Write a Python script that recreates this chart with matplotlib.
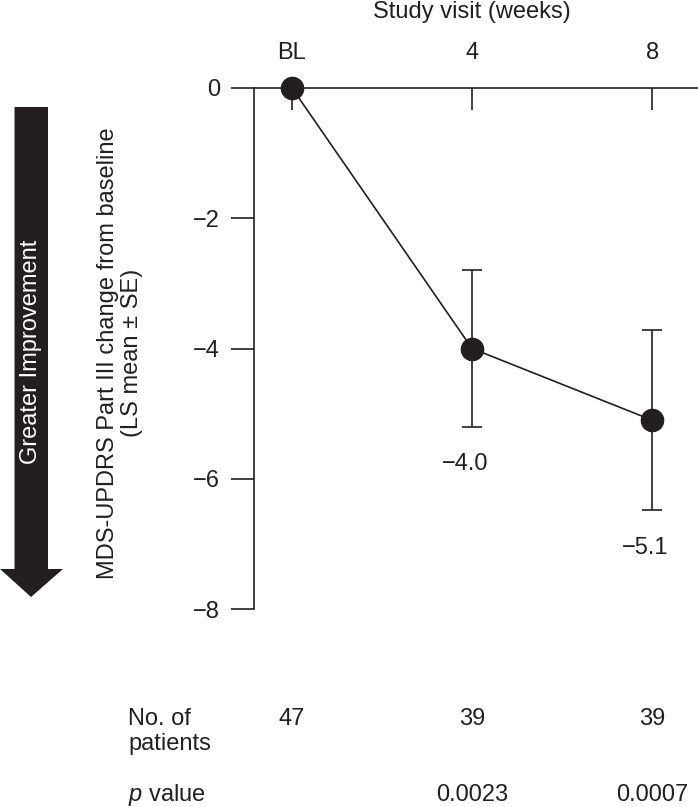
import matplotlib
matplotlib.use("Agg")
import matplotlib.pyplot as plt
from matplotlib.patches import Polygon
from matplotlib import transforms

# data
weeks = [0, 4, 8]
week_labels = ["BL", "4", "8"]
ls_mean = [0.0, -4.0, -5.1]
se = [0.0, 1.2, 1.38]
value_labels = ["", "\u22124.0", "\u22125.1"]
n_patients = ["47", "39", "39"]
p_values = ["", "0.0023", "0.0007"]
y_ticks = [0, -2, -4, -6, -8]

INK = "#231f20"
W, H = 698, 807

plt.rcParams["font.family"] = ["Liberation Sans", "DejaVu Sans"]
plt.rcParams["font.size"] = 17
plt.rcParams["mathtext.fontset"] = "custom"
plt.rcParams["mathtext.rm"] = "Liberation Sans"
plt.rcParams["mathtext.it"] = "Liberation Sans:italic"
plt.rcParams["text.color"] = INK


def fx(px):
    return px / W


def fy(py):
    return 1 - py / H


fig = plt.figure(figsize=(W / 100, H / 100), dpi=100)
ax = fig.add_axes([fx(254), fy(609), fx(698) - fx(254), fy(88) - fy(609)])

ax.plot(weeks, ls_mean, color=INK, lw=1.2, marker="o", ms=16,
        clip_on=False, zorder=3)
ax.errorbar(weeks[1:], ls_mean[1:], yerr=se[1:], fmt="none", ecolor=INK,
            elinewidth=1.2, capsize=7.5, capthick=1.2, zorder=2)

for w, m, s, lbl in zip(weeks, ls_mean, se, value_labels):
    if lbl:
        ax.annotate(lbl, xy=(w, m - s), xytext=(-5, -27),
                    textcoords="offset points", ha="center", va="center")

ax.set_xlim(-0.844, 9.02)
ax.set_ylim(-8, 0)
ax.spines["bottom"].set_visible(False)
ax.spines["right"].set_visible(False)
for side in ("top", "left"):
    ax.spines[side].set_linewidth(1.2)
    ax.spines[side].set_color(INK)

ax.xaxis.tick_top()
ax.set_xticks(weeks, week_labels)
ax.set_yticks(y_ticks)
ax.tick_params(axis="x", direction="in", length=16, width=1.2, pad=17,
               color=INK, labelcolor=INK)
ax.tick_params(axis="y", direction="out", length=16.5, width=1.2, pad=8,
               color=INK, labelcolor=INK)

fig.text(fx(472), fy(12), "Study visit (weeks)", ha="center", va="center")
fig.text(fx(120), fy(353),
         "MDS-UPDRS Part III change from baseline\n(LS mean \u00b1 SE)",
         rotation=90, ha="center", va="center", multialignment="center",
         linespacing=1.15)

# arrow on the left
arrow = Polygon([(fx(14.5), fy(107)), (fx(48), fy(107)), (fx(48), fy(569)),
                 (fx(63), fy(569)), (fx(31), fy(597)), (fx(0), fy(569)),
                 (fx(14.5), fy(569))], closed=True, transform=fig.transFigure,
                facecolor=INK, edgecolor="none")
fig.patches.append(arrow)
fig.text(fx(31), fy(352), "Greater Improvement", color="white", rotation=90,
         ha="center", va="center")

# table under the chart
blend = transforms.blended_transform_factory(ax.transData, fig.transFigure)
fig.text(fx(128), fy(725), "No. of", ha="left", va="baseline")
fig.text(fx(128), fy(750), "patients", ha="left", va="baseline")
fig.text(fx(128), fy(801), "$p$ value", ha="left", va="baseline")
for w, n, p in zip(weeks, n_patients, p_values):
    ax.text(w, fy(725), n, transform=blend, ha="center", va="baseline")
    if p:
        ax.text(w, fy(801), p, transform=blend, ha="center", va="baseline")

fig.savefig("out.png", dpi=100)
